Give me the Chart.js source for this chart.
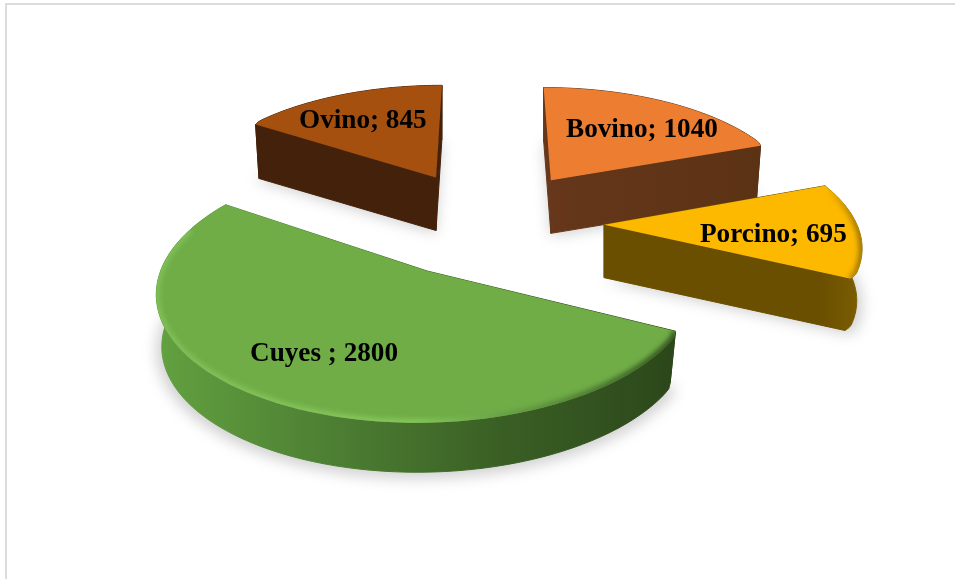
<!DOCTYPE html>
<html>
<head>
<meta charset="utf-8">
<script src="https://cdn.jsdelivr.net/npm/chart.js@4"></script>
<style>
  html, body { margin: 0; background: #fff; }
  #wrap { position: relative; width: 955px; height: 579px; overflow: hidden; }
  #frame { position: absolute; left: 5px; top: 3px; width: 960px; height: 600px; border: 2px solid #dcdcdc; box-sizing: border-box; }
  canvas { position: absolute; left: 0; top: 0; }
</style>
</head>
<body>
<div id="wrap">
  <div id="frame"></div>
  <canvas id="pieChart" width="955" height="579"></canvas>
</div>
<script>
// data
var categories = ["Bovino", "Porcino", "Cuyes ", "Ovino"];
var values = [1040, 695, 2800, 845];

// styles, same order as categories
var topColors = ["#ed7d31", "#fdb900", "#70ad47", "#a5500f"];
var wallColors = [["#66371a", "#5c3215"], ["#6a4f00", "#7a5c00"], ["#62a040", "#4d7f33", "#3a5f24", "#2c481b"], ["#44210a", "#44210a"]];
var rimColors = [["#ed7d31", "#a85a25"], ["#fdb900", "#9a7400"], ["#80c058", "#86c95c", "#2f4f1d"], ["#a5500f", "#7a3c0c"]];
var labelSpots = [[566, 130], [700, 235], [250, 354], [299, 121]];
// which end of each rim has the rounded corner: 0 = start, 1 = end
var roundedEnd = [1, 1, 0, 0];

// perspective of the pie plane
var radiusX = 252;
var radiusY = 116;
var perspective = 0.137;
var depth = 53;
var taper = 0.98;
var explode = 83;

// pie plane -> screen
function project(arc, angle, r, z) {
  var mid = (arc.startAngle + arc.endAngle) / 2;
  var off = arc.options.offset / arc.outerRadius;
  var u = off * Math.cos(mid) + r * Math.cos(angle);
  var v = off * Math.sin(mid) + r * Math.sin(angle);
  var s = 1 / (1 - perspective * v);
  return { x: arc.x + radiusX * u * s, y: arc.y + radiusY * v * s + z };
}

function rimPoints(arc, i, size, z) {
  var pts = [];
  var steps = 80;
  var span = arc.endAngle - arc.startAngle;
  for (var n = 0; n <= steps; n++) {
    var f = n / steps;
    var a = arc.startAngle + span * f;
    // pull the rim in a little close to the rounded corner
    var away = Math.abs(roundedEnd[i] - f) * span;
    var t = Math.max(0, 1 - away / 0.06);
    var p = project(arc, a, size * (1 - 0.012 * t * t), z);
    p.angle = a;
    pts.push(p);
  }
  return pts;
}

function tracePath(ctx, pts, close) {
  ctx.beginPath();
  for (var i = 0; i < pts.length; i++) {
    if (i == 0) ctx.moveTo(pts[i].x, pts[i].y);
    else ctx.lineTo(pts[i].x, pts[i].y);
  }
  if (close) ctx.closePath();
}

function sideGradient(ctx, pts, colors) {
  var minX = 9999, maxX = -9999;
  pts.forEach(function (p) {
    minX = Math.min(minX, p.x);
    maxX = Math.max(maxX, p.x);
  });
  var g = ctx.createLinearGradient(minX, 0, maxX, 0);
  colors.forEach(function (c, n) {
    g.addColorStop(n / (colors.length - 1), c);
  });
  return g;
}

// draws the arcs chart.js has laid out as thick tilted slices
var tiltedPie = {
  id: "tiltedPie",
  beforeDatasetDraw: function (chart) {
    var ctx = chart.ctx;
    var arcs = chart.getDatasetMeta(0).data;
    // back slices first
    var order = [3, 0, 1, 2];

    // soft shadow on the floor
    ctx.save();
    ctx.filter = "blur(7px)";
    ctx.fillStyle = "rgba(0,0,0,0.18)";
    order.forEach(function (i) {
      var arc = arcs[i];
      var apex = project(arc, 0, 0, depth + 3);
      tracePath(ctx, [apex].concat(rimPoints(arc, i, 1, depth + 3)), true);
      ctx.fill();
    });
    ctx.restore();

    order.forEach(function (i) {
      var arc = arcs[i];
      var topRim = rimPoints(arc, i, 1, 0);
      var lowRim = rimPoints(arc, i, taper, depth);
      var apexTop = project(arc, 0, 0, 0);
      var apexLow = project(arc, 0, 0, depth);
      var last = topRim.length - 1;

      // walls, the one nearest to the viewer last
      var walls = [
        topRim.concat(lowRim.slice().reverse()),
        [apexTop, topRim[0], lowRim[0], apexLow],
        [apexTop, topRim[last], lowRim[last], apexLow]
      ];
      walls.sort(function (a, b) {
        var ya = 0, yb = 0;
        a.forEach(function (p) { ya += p.y / a.length; });
        b.forEach(function (p) { yb += p.y / b.length; });
        return ya - yb;
      });
      walls.forEach(function (w) {
        tracePath(ctx, w, true);
        var wallFill = sideGradient(ctx, lowRim, wallColors[i]);
        ctx.fillStyle = wallFill;
        ctx.fill();
        // closes the seam between two walls
        ctx.strokeStyle = wallFill;
        ctx.lineWidth = 1;
        ctx.stroke();
      });

      // top face
      var face = [apexTop].concat(topRim);
      tracePath(ctx, face, true);
      ctx.fillStyle = arc.options.backgroundColor;
      ctx.fill();

      // bevel along the front part of the outer edge
      var front = topRim.filter(function (p) { return Math.sin(p.angle) > -0.35; });
      if (front.length > 1) {
        ctx.save();
        tracePath(ctx, face, true);
        ctx.clip();
        ctx.filter = "blur(2.5px)";
        tracePath(ctx, front, false);
        ctx.strokeStyle = sideGradient(ctx, front, rimColors[i]);
        ctx.lineWidth = 7;
        ctx.stroke();
        ctx.restore();
      }
    });
    return false;
  },
  afterDatasetsDraw: function (chart) {
    var ctx = chart.ctx;
    ctx.save();
    ctx.font = "bold 27.2px 'Liberation Serif'";
    ctx.fillStyle = "#000";
    ctx.textBaseline = "middle";
    categories.forEach(function (c, i) {
      ctx.fillText(c + "; " + values[i], labelSpots[i][0], labelSpots[i][1]);
    });
    ctx.restore();
  }
};

var ctx1 = document.getElementById("pieChart");
var myChart = new Chart(ctx1, {
  type: "pie",
  data: {
    labels: categories,
    datasets: [{
      data: values,
      backgroundColor: topColors,
      offset: explode,
      borderWidth: 0
    }]
  },
  options: {
    responsive: false,
    animation: false,
    layout: { padding: { left: 21, bottom: 135 } },
    plugins: {
      legend: { display: false },
      tooltip: { enabled: false }
    }
  },
  plugins: [tiltedPie]
});
</script>
</body>
</html>
